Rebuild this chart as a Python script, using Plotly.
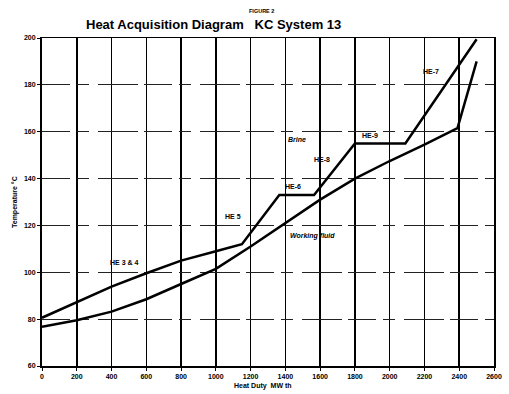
import plotly.graph_objects as go

# Heat duty (MW th) and temperature (°C)
brine_q = [0, 200, 400, 600, 800, 1000, 1150, 1365, 1565, 1800, 2090, 2500]
brine_t = [80.6, 87.4, 93.9, 99.6, 105.0, 109.0, 112.0, 133.0, 133.0, 155.0, 155.0, 199.5]

wf_q = [0, 200, 400, 600, 800, 1000, 1200, 1400, 1600, 1800, 2000, 2200, 2390, 2500]
wf_t = [76.7, 79.5, 83.2, 88.5, 95.0, 101.5, 111.0, 121.0, 131.0, 140.0, 147.5, 154.5, 161.5, 190.0]

x_ticks = list(range(0, 2601, 200))
y_ticks = list(range(60, 201, 20))

labels = [
    ("HE 3 & 4", 475, 104.3, False),
    ("HE 5", 1096, 124.0, False),
    ("HE-6", 1446, 136.8, False),
    ("HE-8", 1610, 148.0, False),
    ("HE-9", 1887, 158.2, False),
    ("HE-7", 2237, 185.5, False),
    ("Brine", 1469, 156.5, True),
    ("Working fluid", 1554, 115.4, True),
]

FONT = "Liberation Sans, Arial, sans-serif"

fig = go.Figure()
fig.add_trace(go.Scatter(x=brine_q, y=brine_t, mode="lines",
                         line=dict(color="black", width=2.5), name="Brine"))
fig.add_trace(go.Scatter(x=wf_q, y=wf_t, mode="lines",
                         line=dict(color="black", width=2.5), name="Working fluid"))

for text, xv, yv, ital in labels:
    fig.add_annotation(x=xv, y=yv, text=(f"<i>{text}</i>" if ital else text),
                       showarrow=False,
                       font=dict(family=FONT, size=7, color="black", weight="bold"))

fig.add_annotation(xref="paper", yref="paper", x=0.485, y=1, yshift=27,
                   text="FIGURE 2", showarrow=False, yanchor="middle",
                   font=dict(family=FONT, size=5.5, color="black", weight="bold"))
fig.add_annotation(xref="paper", yref="paper", x=0.38, y=1, yshift=14,
                   text="Heat Acquisition Diagram   KC System 13", showarrow=False,
                   yanchor="middle",
                   font=dict(family=FONT, size=13, color="black", weight="bold"))
fig.add_annotation(xref="paper", yref="paper", x=0, y=0.5, xshift=-27,
                   text="Temperature °C", textangle=-90, showarrow=False,
                   xanchor="center", yanchor="middle",
                   font=dict(family=FONT, size=7, color="black", weight="bold"))
fig.add_annotation(xref="paper", yref="paper", x=0.49, y=0, yshift=-20,
                   text="Heat Duty  MW th", showarrow=False, yanchor="middle",
                   font=dict(family=FONT, size=7, color="black", weight="bold"))

fig.update_layout(
    width=509, height=394,
    margin=dict(l=42, r=7, t=38, b=28),
    paper_bgcolor="white", plot_bgcolor="white",
    showlegend=False,
    font=dict(family=FONT, color="black"),
)
fig.update_xaxes(range=[0, 2600], tickvals=x_ticks, ticktext=[str(v) for v in x_ticks],
                 showgrid=True, gridcolor="black", gridwidth=1.5,
                 showline=True, linecolor="black", linewidth=1.5, mirror=True,
                 ticks="outside", ticklen=3, tickcolor="black",
                 tickfont=dict(family=FONT, size=7, color="black", weight="bold"),
                 zeroline=False)
fig.update_yaxes(range=[60, 200], tickvals=y_ticks, ticktext=[str(v) for v in y_ticks],
                 showgrid=True, gridcolor="#222", gridwidth=1,
                 griddash="28px,7px,12px,9px,40px,6px",
                 showline=True, linecolor="black", linewidth=2, mirror=True,
                 ticks="outside", ticklen=3, tickcolor="black",
                 tickfont=dict(family=FONT, size=7, color="black", weight="bold"),
                 zeroline=False)

fig.write_html("out.html",
               config={"displayModeBar": False, "staticPlot": True},
               post_script="document.body.style.margin='0';document.body.style.overflow='hidden';")
